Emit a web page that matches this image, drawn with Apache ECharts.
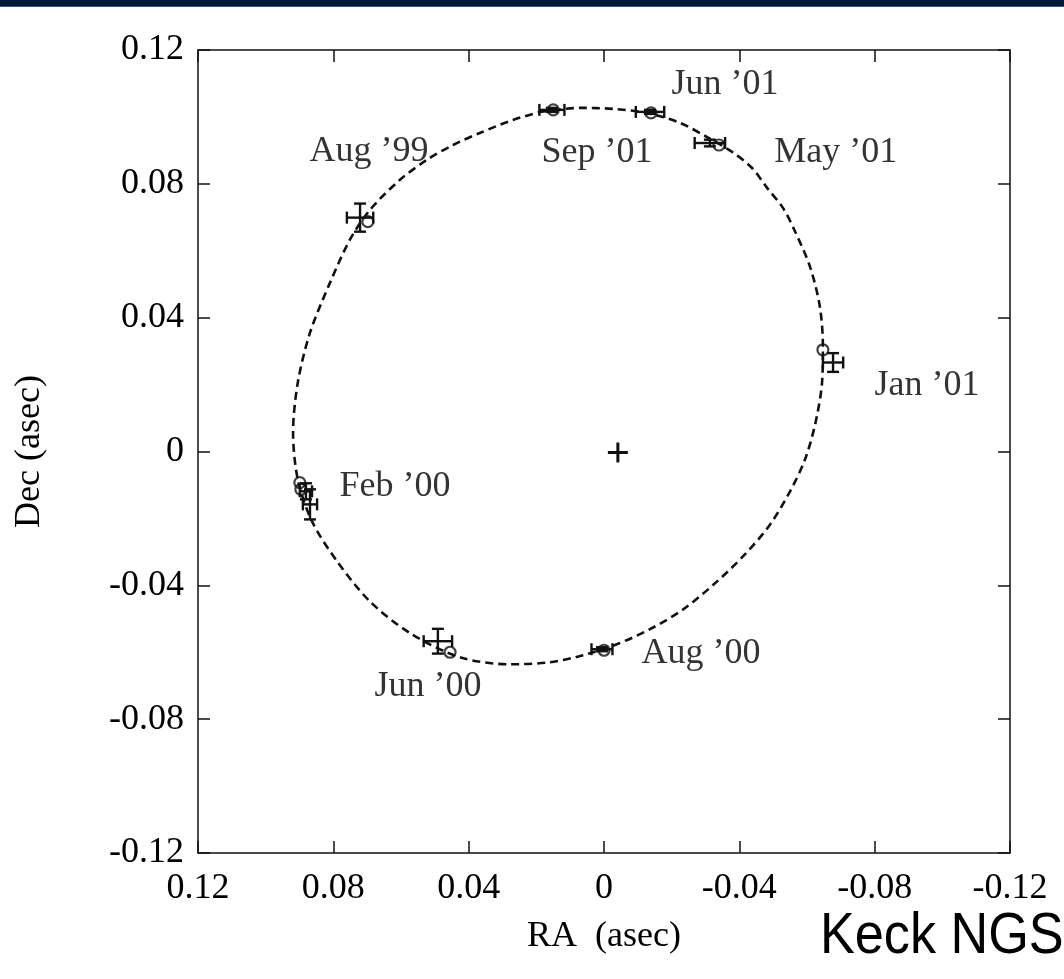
<!DOCTYPE html>
<html>
<head>
<meta charset="utf-8">
<script src="https://cdn.jsdelivr.net/npm/echarts@6/dist/echarts.min.js"></script>
<style>
html,body{margin:0;padding:0;background:#fff;}
#chart{width:1064px;height:979px;}
</style>
</head>
<body>
<div id="chart"></div>
<script>
// ---- Data (arcsec) ----
// Orbit (dashed curve), in drawing order
const orbitRA  = [0.0189,0.0071,-0.0027,-0.0127,-0.0225,-0.0304,-0.0378,-0.0437,-0.0482,-0.0529,-0.0565,-0.0609,-0.0638,-0.0647,-0.0644,-0.0624,-0.0594,-0.0550,-0.0491,-0.0417,-0.0328,-0.0234,-0.0136,-0.0038,0.0062,0.0160,0.0278,0.0426,0.0573,0.0692,0.0789,0.0863,0.0905,0.0919,0.0905,0.0869,0.0810,0.0751,0.0692,0.0603,0.0523,0.0446,0.0367,0.0269,0.0189];
const orbitDec = [0.1015,0.1027,0.1024,0.1012,0.0982,0.0940,0.0896,0.0848,0.0788,0.0728,0.0657,0.0552,0.0433,0.0313,0.0200,0.0081,-0.0024,-0.0119,-0.0218,-0.0307,-0.0394,-0.0472,-0.0531,-0.0576,-0.0609,-0.0630,-0.0636,-0.0615,-0.0543,-0.0448,-0.0328,-0.0209,-0.0084,0.0057,0.0206,0.0355,0.0504,0.0633,0.0722,0.0812,0.0872,0.0916,0.0952,0.0991,0.1015];

// Measured positions with error bars
const obsRA     = [0.0721, 0.0881, 0.0869, 0.0491, 0.0006, -0.0677, -0.0313, -0.0136, 0.0154];
const obsDec    = [0.0699, -0.0119, -0.0158, -0.0567, -0.0591, 0.0266, 0.0922, 0.1015, 0.1021];
const obsErrRA  = [0.0039, 0.0018, 0.0021, 0.0042, 0.0031, 0.0030, 0.0045, 0.0042, 0.0037];
const obsErrDec = [0.0042, 0.0024, 0.0045, 0.0037, 0.0006, 0.0028, 0.0010, 0.0006, 0.0006];

// Model (predicted) positions, open circles
const modelRA  = [0.0698, 0.0899, 0.0896, 0.0455, 0.0000, -0.0647, -0.0340, -0.0139, 0.0150];
const modelDec = [0.0687, -0.0093, -0.0113, -0.0600, -0.0594, 0.0304, 0.0916, 0.1012, 0.1021];

// Epoch labels (left edge / vertical centre)
const labelNames = ["Aug \u201999", "Sep \u201901", "Jun \u201901", "May \u201901", "Jan \u201901", "Feb \u201900", "Jun \u201900", "Aug \u201900"];
const labelRA    = [0.0869, 0.0183, -0.0201, -0.0505, -0.0801, 0.0780, 0.0677, -0.0112];
const labelDec   = [0.0896, 0.0893, 0.1096, 0.0893, 0.0197, -0.0107, -0.0704, -0.0606];

// Central mass position
const centerRA = [-0.0041];
const centerDec = [-0.0003];

const AX_MIN = -0.12, AX_MAX = 0.12, AX_STEP = 0.04;

const SERIF = '"Liberation Serif","Times New Roman",serif';
const fmt = v => String(Math.round(v * 100) / 100);

const chart = echarts.init(document.getElementById('chart'), null, {renderer: 'canvas'});

const axisCommon = {
  type: 'value', min: AX_MIN, max: AX_MAX, interval: AX_STEP,
  splitLine: {show: false},
  axisLine: {show: true, onZero: false, lineStyle: {color: '#111', width: 1.5}},
  axisTick: {show: true, inside: true, length: 12, lineStyle: {color: '#111', width: 1.5}},
};

const option = {
  animation: false,
  backgroundColor: '#fff',
  grid: {left: 198, right: 54, top: 50, bottom: 126, containLabel: false},
  xAxis: [
    Object.assign({}, axisCommon, {
      position: 'bottom', inverse: true,
      name: 'RA  (asec)', nameLocation: 'middle', nameGap: 66,
      nameTextStyle: {fontFamily: SERIF, fontSize: 36, color: '#000'},
      axisLabel: {show: true, margin: 18, fontFamily: SERIF, fontSize: 36, color: '#000',
        formatter: fmt, showMinLabel: true, showMaxLabel: true}
    }),
    Object.assign({}, axisCommon, {position: 'top', inverse: true, axisLabel: {show: false}})
  ],
  yAxis: [
    Object.assign({}, axisCommon, {
      position: 'left',
      name: 'Dec (asec)', nameLocation: 'middle', nameGap: 150,
      nameTextStyle: {fontFamily: SERIF, fontSize: 36, color: '#000'},
      axisLabel: {show: true, margin: 14, fontFamily: SERIF, fontSize: 36, color: '#000',
        formatter: fmt, showMinLabel: true, showMaxLabel: true}
    }),
    Object.assign({}, axisCommon, {position: 'right', axisLabel: {show: false}})
  ],
  series: [
    {
      name: 'orbit', type: 'line', xAxisIndex: 0, yAxisIndex: 0,
      data: orbitRA.map((x, i) => [x, orbitDec[i]]),
      smooth: 0.3, showSymbol: false, symbol: 'none', silent: true,
      lineStyle: {color: '#111', width: 2.6, type: [8, 5]}
    },
    {
      name: 'measured', type: 'custom', xAxisIndex: 0, yAxisIndex: 0,
      data: obsRA.map((x, i) => [x, obsDec[i], obsErrRA[i], obsErrDec[i]]),
      renderItem: function (params, api) {
        const x = api.value(0), y = api.value(1), ex = api.value(2), ey = api.value(3);
        const c = api.coord([x, y]);
        const l = api.coord([x + ex, y]);
        const r = api.coord([x - ex, y]);
        const t = api.coord([x, y + ey]);
        const b = api.coord([x, y - ey]);
        const cap = 6;
        const st = {stroke: '#111', lineWidth: 2.4};
        const seg = (x1, y1, x2, y2) => ({type: 'line', shape: {x1, y1, x2, y2}, style: st});
        return {type: 'group', children: [
          seg(l[0], c[1], r[0], c[1]),
          seg(l[0], c[1] - cap, l[0], c[1] + cap),
          seg(r[0], c[1] - cap, r[0], c[1] + cap),
          seg(c[0], t[1], c[0], b[1]),
          seg(c[0] - cap, t[1], c[0] + cap, t[1]),
          seg(c[0] - cap, b[1], c[0] + cap, b[1])
        ]};
      }
    },
    {
      name: 'model', type: 'scatter', xAxisIndex: 0, yAxisIndex: 0,
      data: modelRA.map((x, i) => [x, modelDec[i]]),
      symbol: 'circle', symbolSize: 11,
      itemStyle: {color: 'rgba(0,0,0,0)', borderColor: '#111', borderWidth: 2.2}
    },
    {
      name: 'center', type: 'custom', xAxisIndex: 0, yAxisIndex: 0,
      data: centerRA.map((x, i) => [x, centerDec[i]]),
      renderItem: function (params, api) {
        const c = api.coord([api.value(0), api.value(1)]);
        const s = 10, st = {stroke: '#111', lineWidth: 3};
        return {type: 'group', children: [
          {type: 'line', shape: {x1: c[0] - s, y1: c[1], x2: c[0] + s, y2: c[1]}, style: st},
          {type: 'line', shape: {x1: c[0], y1: c[1] - s, x2: c[0], y2: c[1] + s}, style: st}
        ]};
      }
    },
    {
      name: 'labels', type: 'scatter', xAxisIndex: 0, yAxisIndex: 0,
      data: labelNames.map((n, i) => ({name: n, value: [labelRA[i], labelDec[i]]})),
      symbolSize: 1, itemStyle: {color: 'rgba(0,0,0,0)'}, silent: true,
      label: {show: true, position: [0, 0], align: 'left', verticalAlign: 'middle',
        formatter: p => p.name, fontFamily: SERIF, fontSize: 36, color: '#000'}
    }
  ],
  graphic: [
    {type: 'rect', left: 0, top: 0, shape: {width: 1064, height: 6}, style: {fill: '#001a38'}, z: 100},
    {type: 'rect', left: 0, top: 6, shape: {width: 1064, height: 1}, style: {fill: '#3b5675'}, z: 100},
    {type: 'text', x: 820, y: 966, scaleX: 0.9,
      style: {text: 'Keck NGS', fontFamily: '"Liberation Sans",Arial,sans-serif', fontSize: 58,
        fill: '#000', textVerticalAlign: 'bottom', verticalAlign: 'bottom'}, z: 100}
  ]
};

chart.setOption(option);
</script>
</body>
</html>
